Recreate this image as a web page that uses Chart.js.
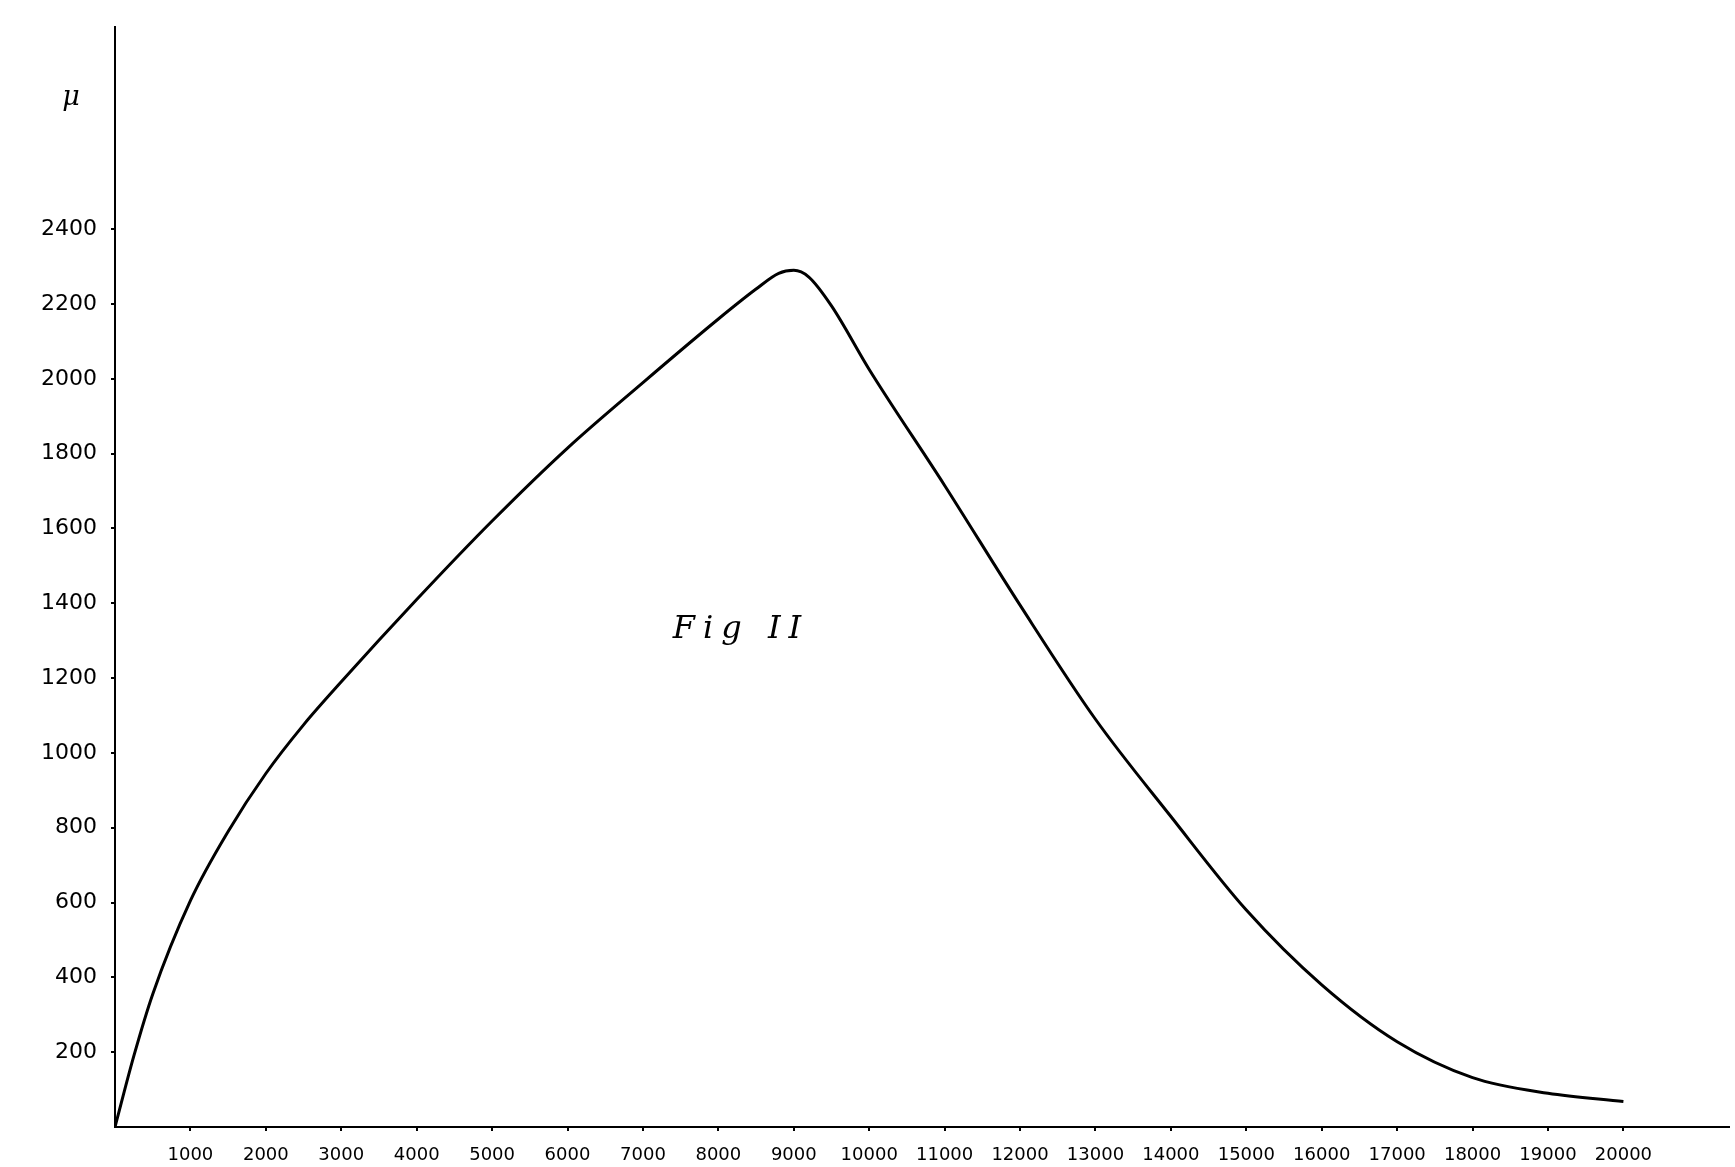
<!DOCTYPE html>
<html>
<head>
<meta charset="utf-8">
<script src="https://cdn.jsdelivr.net/npm/chart.js@4"></script>
<style>
  html, body { margin: 0; padding: 0; background: #fff; }
  #wrap { width: 1735px; height: 1167px; }
</style>
</head>
<body>
<div id="wrap"><canvas id="grafico_fig2"></canvas></div>
<script>
let ctx = document.getElementById('grafico_fig2').getContext('2d');

// x values (abscissa) and mu values
const abscissa = [0, 250, 500, 1000, 1500, 2000, 2500, 3000, 4000, 5000, 6000, 7000, 8000, 8500, 8800, 9000, 9200, 9500, 10000, 11000, 12000, 13000, 14000, 15000, 16000, 17000, 18000, 19000, 20000];
const valores = [0, 190, 355, 605, 790, 945, 1075, 1190, 1410, 1620, 1815, 1990, 2160, 2240, 2282, 2290, 2272, 2195, 2025, 1715, 1395, 1090, 830, 580, 380, 228, 132, 90, 68];

const ticksX = [1000, 2000, 3000, 4000, 5000, 6000, 7000, 8000, 9000, 10000, 11000, 12000, 13000, 14000, 15000, 16000, 17000, 18000, 19000, 20000];
const ticksY = [200, 400, 600, 800, 1000, 1200, 1400, 1600, 1800, 2000, 2200, 2400];

const rotulos = {
	id: 'rotulos',
	afterDraw(chart) {
		const c = chart.ctx;
		const x = chart.scales.x;
		const y = chart.scales.y;
		c.save();
		c.fillStyle = '#000';
		c.textAlign = 'center';
		c.textBaseline = 'middle';
		c.font = 'italic 27px "DejaVu Serif"';
		c.fillText('μ', chart.chartArea.left - 44, y.getPixelForValue(2750));
		c.font = 'italic 32px "DejaVu Serif"';
		c.letterSpacing = '8px';
		c.fillText('Fig II', x.getPixelForValue(8300), y.getPixelForValue(1330));
		c.restore();
	}
};

let grafico = new Chart(ctx, {
	type: 'line',
	data: {
		datasets: [
			{
				label: 'μ',
				data: abscissa.map((v, i) => ({ x: v, y: valores[i] })),
				borderColor: '#000',
				borderWidth: 3,
				pointRadius: 0,
				cubicInterpolationMode: 'monotone',
				fill: false
			}
		]
	},
	options: {
		responsive: true,
		maintainAspectRatio: false,
		animation: false,
		layout: { padding: { top: 18, right: 6, left: 0, bottom: 0 } },
		plugins: {
			legend: { display: false },
			tooltip: { enabled: false }
		},
		scales: {
			x: {
				type: 'linear',
				min: 0,
				max: 21400,
				afterBuildTicks: (s) => { s.ticks = ticksX.map(v => ({ value: v })); },
				afterFit: (s) => { s.height = 40; },
				border: { color: '#000', width: 2 },
				grid: { display: true, drawOnChartArea: false, tickLength: 4, color: '#000', lineWidth: 2 },
				ticks: {
					color: '#000',
					padding: 14,
					maxRotation: 0,
					autoSkip: false,
					font: { family: '"DejaVu Sans"', size: 18 },
					callback: (v) => String(v)
				}
			},
			y: {
				type: 'linear',
				min: 0,
				max: 2940,
				afterBuildTicks: (s) => { s.ticks = ticksY.map(v => ({ value: v })); },
				afterFit: (s) => { s.width = 115; },
				border: { color: '#000', width: 2 },
				grid: { display: true, drawOnChartArea: false, tickLength: 4, color: '#000', lineWidth: 2 },
				ticks: {
					color: '#000',
					padding: 14,
					autoSkip: false,
					font: { family: '"DejaVu Sans"', size: 22 },
					callback: (v) => String(v)
				}
			}
		}
	},
	plugins: [rotulos]
});
</script>
</body>
</html>
